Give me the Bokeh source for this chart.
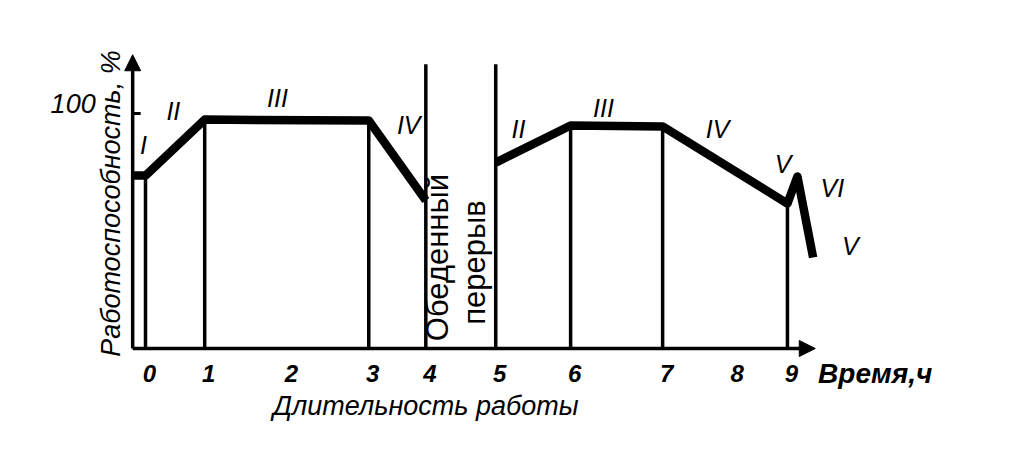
import numpy as np
from bokeh.plotting import figure
from bokeh.models import Range1d, Arrow, NormalHead, Label
from bokeh.embed import file_html
from bokeh.resources import INLINE
from bokeh.core.properties import value

# ---- data (x = position along the drawn time axis, y = work capacity, %) ----
hour_labels = ["0", "1", "2", "3", "4", "5", "6", "7", "8", "9"]
hour_pos = [0.0, 0.83, 1.99, 3.13, 3.93, 4.91, 5.96, 7.25, 8.24, 9.0]

y_tick_values = [100]
y_tick_labels = ["100"]

morning_x = [-0.18, 0.0, 0.83, 3.13, 3.93]
morning_y = [73.6, 73.6, 97.4, 97.0, 63.0]

afternoon_x = [4.91, 5.96, 7.25, 9.0, 9.14, 9.36]
afternoon_y = [79.1, 94.9, 94.5, 61.7, 73.2, 38.7]

divider_x = [0.0, 0.83, 3.13, 3.93, 4.91, 5.96, 7.25, 9.0]
divider_top = [73.6, 97.4, 97.0, 121.0, 121.0, 94.9, 94.5, 61.7]

phase_labels = ["I", "II", "III", "IV", "II", "III", "IV", "V", "VI", "V"]
phase_x = [-0.03, 0.39, 1.85, 3.69, 5.23, 6.42, 8.02, 8.94, 9.63, 9.88]
phase_y = [86.4, 100.9, 106.8, 95.3, 93.6, 102.5, 93.6, 78.7, 68.5, 43.8]

axis_x0 = -0.18
x_axis_end = 9.39
y_axis_end = 125.0

FONT = "Liberation Sans"

p = figure(width=1003, height=435, output_backend="svg", toolbar_location=None,
           x_range=Range1d(-2.033, 12.029), y_range=Range1d(-37.02, 148.09),
           x_axis_location=None, y_axis_location=None, min_border=0,
           outline_line_color=None, background_fill_color="white")
p.xgrid.visible = False
p.ygrid.visible = False

# vertical period dividers
p.segment(x0=divider_x, y0=0, x1=divider_x, y1=divider_top,
          line_color="black", line_width=3.5)

# work capacity curve
p.line(morning_x, morning_y, line_color="black", line_width=8.5, line_join="round")
p.line(afternoon_x, afternoon_y, line_color="black", line_width=8.5, line_join="round")

# axes with arrows
p.add_layout(Arrow(end=NormalHead(size=16, fill_color="black", line_color="black"),
                   x_start=axis_x0, y_start=0, x_end=axis_x0, y_end=y_axis_end,
                   line_color="black", line_width=3.5))
p.add_layout(Arrow(end=NormalHead(size=16, fill_color="black", line_color="black"),
                   x_start=axis_x0, y_start=0, x_end=x_axis_end, y_end=0,
                   line_color="black", line_width=3.5))

# y tick (inside) and label
p.ray(x=[axis_x0] * len(y_tick_values), y=y_tick_values, length=8, length_units="screen",
      angle=0, line_color="black", line_width=3)
p.text(x=[axis_x0] * len(y_tick_values), y=y_tick_values, text=y_tick_labels,
       x_offset=-37, y_offset=-10, text_align="right", text_baseline="middle",
       text_font=value(FONT), text_font_style="italic", text_font_size="27px",
       text_color="black")

# x tick labels
p.text(x=hour_pos, y=[0] * len(hour_pos), text=hour_labels, x_offset=4, y_offset=25,
       text_align="center", text_baseline="middle",
       text_font=value(FONT), text_font_style="bold italic", text_font_size="24px",
       text_color="black")

# phase labels
p.text(x=phase_x, y=phase_y, text=phase_labels, text_align="center", text_baseline="middle",
       text_font=value(FONT), text_font_style="italic", text_font_size="25px",
       text_color="black")

# axis titles and notes
p.add_layout(Label(x=-0.49, y=61.7, text="Работоспособность, %", angle=np.pi / 2,
                   text_align="center", text_baseline="middle", text_font=FONT,
                   text_font_style="italic", text_font_size="27px", text_color="black"))
p.add_layout(Label(x=3.93, y=-24.3, text="Длительность работы",
                   text_align="center", text_baseline="middle", text_font=FONT,
                   text_font_style="italic", text_font_size="27px", text_color="black"))
p.add_layout(Label(x=9.43, y=-10.6, text="Время,ч",
                   text_align="left", text_baseline="middle", text_font=FONT,
                   text_font_style="bold italic", text_font_size="28px", text_color="black"))
p.add_layout(Label(x=4.09, y=38.7, text="Обеденный", angle=np.pi / 2,
                   text_align="center", text_baseline="middle", text_font=FONT,
                   text_font_size="31px", text_color="black"))
p.add_layout(Label(x=4.61, y=36.6, text="перерыв", angle=np.pi / 2,
                   text_align="center", text_baseline="middle", text_font=FONT,
                   text_font_size="31px", text_color="black"))

open("out.html", "w").write(file_html(p, INLINE))
